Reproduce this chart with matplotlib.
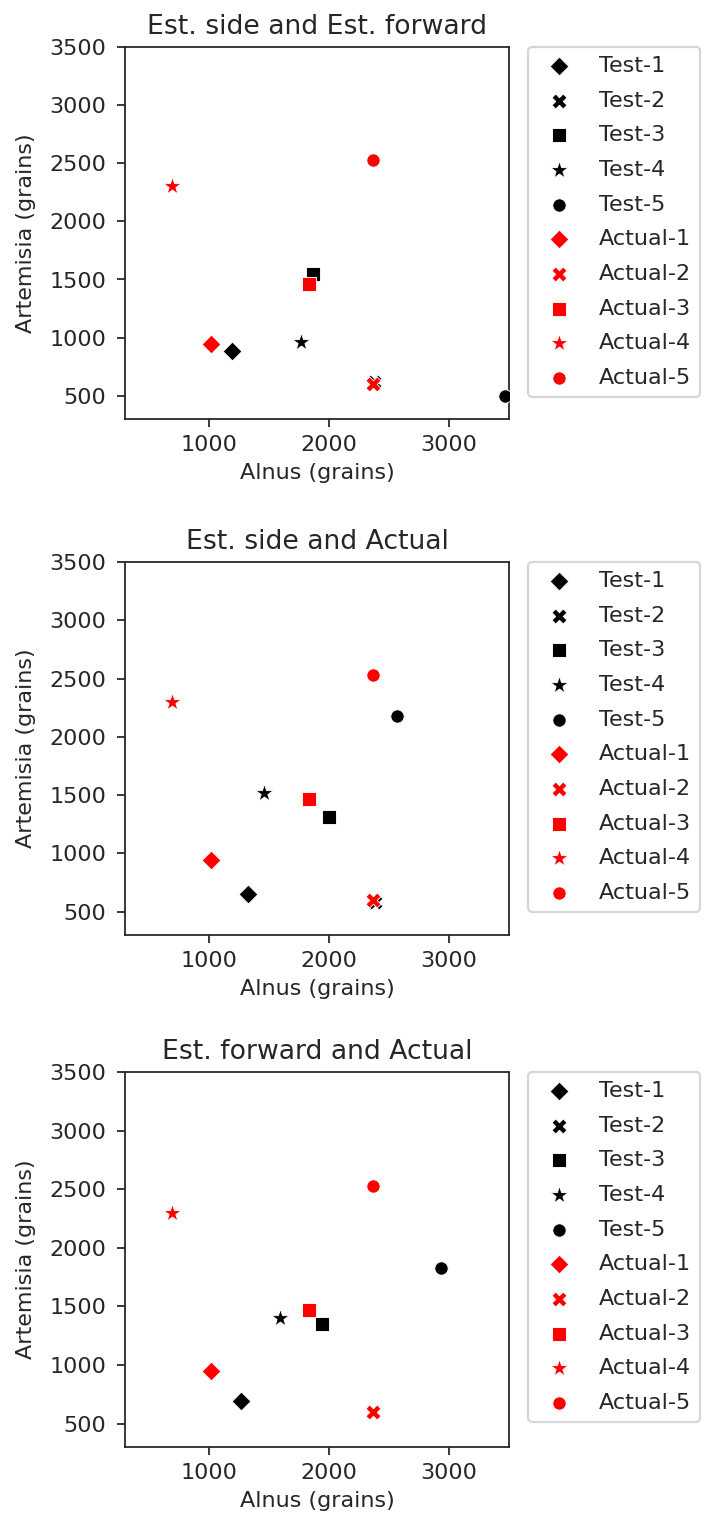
import matplotlib
matplotlib.use("Agg")
import matplotlib.pyplot as plt

# valores (granos)
markers = ["D", "X", "s", "*", "o"]
test_labels = ["Test-1", "Test-2", "Test-3", "Test-4", "Test-5"]
actual_labels = ["Actual-1", "Actual-2", "Actual-3", "Actual-4", "Actual-5"]

actual_alnus = [1020, 2370, 1830, 690, 2370]
actual_artemisia = [945, 600, 1465, 2300, 2530]

side_fwd_alnus = [1195, 2375, 1870, 1765, 3470]
side_fwd_artemisia = [885, 620, 1545, 965, 500]

side_act_alnus = [1325, 2385, 2000, 1455, 2570]
side_act_artemisia = [655, 580, 1310, 1515, 2180]

fwd_act_alnus = [1265, 2370, 1945, 1590, 2935]
fwd_act_artemisia = [695, 600, 1350, 1400, 1830]

titles = ["Est. side and Est. forward", "Est. side and Actual", "Est. forward and Actual"]
tests = [(side_fwd_alnus, side_fwd_artemisia),
         (side_act_alnus, side_act_artemisia),
         (fwd_act_alnus, fwd_act_artemisia)]

# tamaño de cada marcador (la estrella y la X se ven mas grandes en el original)
sizes = {"D": 36, "X": 46, "s": 36, "*": 70, "o": 36}

# estilo parecido a seaborn "ticks"
gris = ".15"
plt.rcParams.update({
    "text.color": gris,
    "axes.labelcolor": gris,
    "axes.edgecolor": gris,
    "xtick.color": gris,
    "ytick.color": gris,
    "axes.titlesize": 12,
    "ytick.major.pad": 5,
})

W, H = 704, 1521
DPI = 160
fig = plt.figure(figsize=(W / DPI, H / DPI), dpi=DPI)

# posiciones de los ejes en pixeles: (izq, arriba, der, abajo)
boxes = [(125, 47, 509, 419), (125, 562, 509, 935), (125, 1072, 509, 1447)]

for (l, t, r, b), title, (tx, ty) in zip(boxes, titles, tests):
    ax = fig.add_axes([l / W, 1 - b / H, (r - l) / W, (b - t) / H])
    for i in range(5):
        m = markers[i]
        ax.scatter(tx[i], ty[i], marker=m, color="black", s=sizes[m],
                   edgecolors="white", linewidths=0.4, label=test_labels[i], zorder=3)
    for i in range(5):
        m = markers[i]
        ax.scatter(actual_alnus[i], actual_artemisia[i], marker=m, color="red", s=sizes[m],
                   edgecolors="white", linewidths=0.4, label=actual_labels[i], zorder=3)
    ax.set_xlim(300, 3500)
    ax.set_ylim(300, 3500)
    ax.set_xticks([1000, 2000, 3000])
    ax.set_yticks([500, 1000, 1500, 2000, 2500, 3000, 3500])
    ax.set_title(title)
    ax.set_xlabel("Alnus (grains)")
    ax.set_ylabel("Artemisia (grains)", labelpad=6)
    ax.legend(bbox_to_anchor=(1.05, 1), loc="upper left", borderaxespad=0,
              labelspacing=0.66)

fig.savefig("out.png", dpi=DPI)
